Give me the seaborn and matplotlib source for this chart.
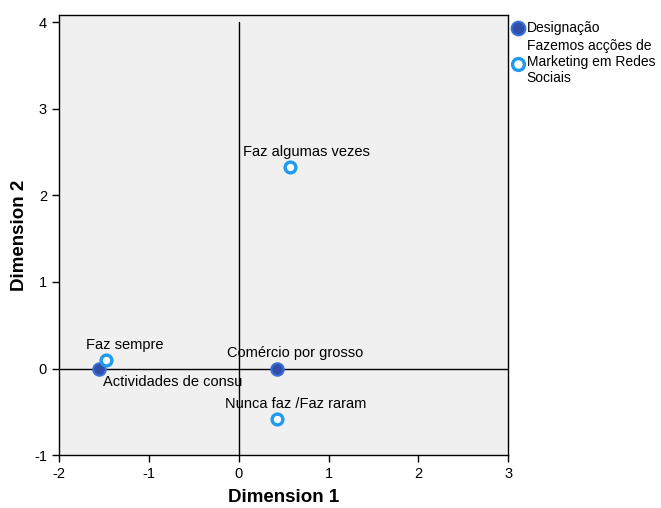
import pandas as pd
import seaborn as sns
import matplotlib.pyplot as plt

# category points (Dimension 1, Dimension 2)
desig_labels = ['Actividades de consu', 'Comércio por grosso']
desig_d1 = [-1.55, 0.43]
desig_d2 = [0.00, 0.00]

mkt_labels = ['Faz sempre', 'Faz algumas vezes', 'Nunca faz /Faz raram']
mkt_d1 = [-1.47, 0.57, 0.43]
mkt_d2 = [0.10, 2.33, -0.58]

desig = pd.DataFrame({'d1': desig_d1, 'd2': desig_d2, 'lab': desig_labels})
mkt = pd.DataFrame({'d1': mkt_d1, 'd2': mkt_d2, 'lab': mkt_labels})

sns.set_style('ticks')
plt.rcParams['font.family'] = ['Liberation Sans', 'DejaVu Sans']
plt.rcParams['axes.unicode_minus'] = False
plt.rcParams['text.color'] = 'black'
plt.rcParams['axes.labelcolor'] = 'black'

fig = plt.figure(figsize=(6.61, 5.08), dpi=100)
ax = fig.add_axes([0.089, 0.104, 0.68, 0.866])
ax.set_facecolor('#f0f0f0')

ax.axhline(0, color='black', lw=1, zorder=1)
ax.plot([0, 0], [-1, 4], color='black', lw=1, zorder=1)

sns.scatterplot(data=desig, x='d1', y='d2', ax=ax, s=80, color='#2f4fa8',
                edgecolor='#3a6fd8', linewidth=1.5, zorder=3,
                label='Designação')
sns.scatterplot(data=mkt, x='d1', y='d2', ax=ax, s=60, color='white',
                edgecolor='#1e9af0', linewidth=2.4, zorder=3,
                label='Fazemos acções de\nMarketing em Redes\nSociais')

# label offsets in points
offs = {'Actividades de consu': (3, -10, 'left'),
        'Comércio por grosso': (13, 11, 'center'),
        'Faz sempre': (-15, 11, 'left'),
        'Faz algumas vezes': (12, 11, 'center'),
        'Nunca faz /Faz raram': (13, 11, 'center')}
for df in (desig, mkt):
    for _, r in df.iterrows():
        dx, dy, ha = offs[r['lab']]
        ax.annotate(r['lab'], (r['d1'], r['d2']), xytext=(dx, dy),
                    textcoords='offset points', ha=ha, va='center',
                    fontsize=10.5, color='black')

ax.set_xlim(-2, 3)
ax.set_ylim(-1, 4.08)
ax.set_xticks([-2, -1, 0, 1, 2, 3])
ax.set_yticks([-1, 0, 1, 2, 3, 4])
ax.tick_params(direction='out', length=5, width=1, labelsize=10.5, colors='black')
for sp in ax.spines.values():
    sp.set_color('black')
    sp.set_linewidth(1)
ax.set_xlabel('Dimension 1', fontsize=13.5, fontweight='bold')
ax.set_ylabel('Dimension 2', fontsize=13.5, fontweight='bold')
ax.xaxis.set_label_coords(0.5, -0.077)
ax.yaxis.set_label_coords(-0.068, 0.5)

ax.legend(loc='upper left', bbox_to_anchor=(0.99, 1.0), frameon=False,
          fontsize=10, handletextpad=0.05, borderaxespad=0,
          labelspacing=0.3, handlelength=1.2, markerscale=1.1)

plt.savefig('out.png', dpi=100)
